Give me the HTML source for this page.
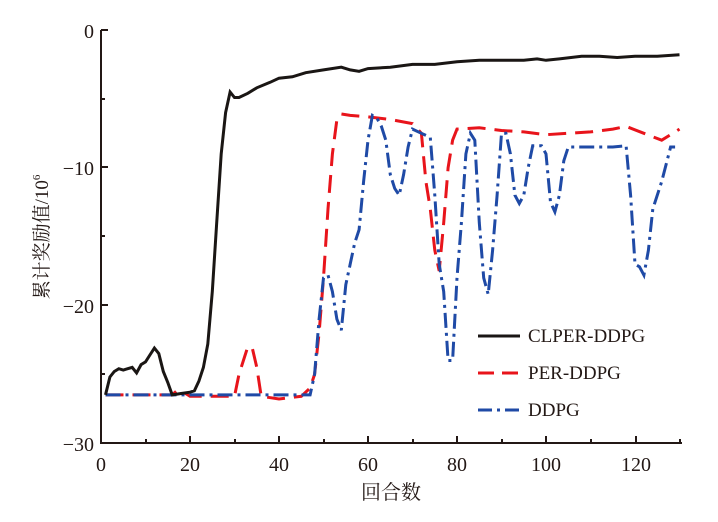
<!DOCTYPE html>
<html><head><meta charset="utf-8"><style>
body{margin:0;background:#fff;width:718px;height:517px;overflow:hidden}
svg text{font-family:"Liberation Serif","Noto Serif CJK SC",serif;fill:#231815}
</style></head><body>
<svg id="s" width="718" height="517" xmlns="http://www.w3.org/2000/svg">
<g stroke="#231815" stroke-width="2" fill="none">
<path d="M101,30 V443 H682"/>
<path d="M101,30h7M101,99h4M101,167h7M101,236h4M101,305h7M101,374h4"/>
<path d="M190,443v-7M279,443v-7M368,443v-7M457,443v-7M546,443v-7M636,443v-7M146,443v-4M235,443v-4M324,443v-4M413,443v-4M502,443v-4M591,443v-4M680,443v-4"/>
</g>
<g font-size="20" text-anchor="end">
<text x="94" y="38">0</text><text x="94" y="175">−10</text><text x="94" y="313">−20</text><text x="94" y="451">−30</text>
</g>
<g font-size="20" text-anchor="middle">
<text x="101" y="471">0</text><text x="190" y="471">20</text><text x="279" y="471">40</text><text x="368" y="471">60</text><text x="457" y="471">80</text><text x="546" y="471">100</text><text x="636" y="471">120</text>
</g>
<text x="391" y="499" font-size="20" text-anchor="middle">回合数</text>
<text transform="translate(48,237) rotate(-90)" font-size="19" text-anchor="middle">累计奖励值/10<tspan font-size="11" dy="-8">6</tspan></text>
<path id="r" fill="none" stroke="#e8141b" stroke-width="3" stroke-dasharray="18,9"/>
<path id="b" fill="none" stroke="#1f4aa6" stroke-width="3" stroke-dasharray="15,5,3,5"/>
<path id="k" fill="none" stroke="#1a1614" stroke-width="3"/>
<g font-size="19">
<path d="M478,336h42" stroke="#1a1614" stroke-width="3"/>
<text x="528" y="342">CLPER-DDPG</text>
<path d="M478,373h42" stroke="#e8141b" stroke-width="3" stroke-dasharray="16,8"/>
<text x="528" y="379">PER-DDPG</text>
<path d="M478,410h42" stroke="#1f4aa6" stroke-width="3" stroke-dasharray="14,5,3,5"/>
<text x="528" y="416">DDPG</text>
</g>
</svg>
<script>
function P(a){var s="";for(var i=0;i<a.length;i+=2){var x=101+a[i]*4.45,y=30-a[i+1]*13.77;s+=(i?"L":"M")+x.toFixed(1)+","+y.toFixed(1);}return s;}
var k=[1,-26.5,2,-25.2,3,-24.8,4,-24.6,5,-24.7,6,-24.6,7,-24.5,8,-24.9,9,-24.3,10,-24.1,11,-23.6,12,-23.1,13,-23.5,14,-24.8,15,-25.6,16,-26.5,18,-26.4,20,-26.3,21,-26.2,22,-25.5,23,-24.5,24,-22.8,25,-19,26,-14,27,-9,28,-6,29,-4.5,30,-4.9,31,-4.9,33,-4.6,35,-4.2,38,-3.8,40,-3.5,43,-3.4,46,-3.1,50,-2.9,54,-2.7,56,-2.9,58,-3.0,60,-2.8,65,-2.7,70,-2.5,75,-2.5,80,-2.3,85,-2.2,90,-2.2,95,-2.2,98,-2.1,100,-2.2,103,-2.1,108,-1.9,112,-1.9,116,-2,120,-1.9,125,-1.9,130,-1.8];
var r=[1,-26.5,16,-26.5,17,-26.2,19,-26.4,20,-26.6,30,-26.6,31,-25,33,-23,34,-23.1,35,-24.5,36,-26.6,40,-26.8,45,-26.6,47,-26,48,-25,49,-22,50,-18,51,-13,52,-9,53,-6.5,54,-6.1,56,-6.2,60,-6.3,65,-6.5,70,-6.8,72,-7.5,73,-11,74,-13,75,-16,76,-17.5,77,-14,78,-10,79,-8,80,-7.2,85,-7.1,90,-7.3,95,-7.4,100,-7.6,105,-7.5,110,-7.4,115,-7.2,118,-7,122,-7.5,126,-8,130,-7.2];
var b=[1,-26.5,47,-26.5,48,-25,49,-21,50,-18,51,-17.8,52,-19,53,-21,54,-21.8,55,-18.5,56,-17,57,-15.5,58,-14.5,59,-11,60,-8,61,-6.2,62,-6.4,63,-7,64,-8,65,-10.5,66,-11.5,67,-12,68,-10.5,69,-8.5,70,-7.2,72,-7.5,74,-7.8,75,-12,76,-17,77,-19,78,-24,79,-24,80,-18,81,-14,82,-9,83,-7.5,84,-8,85,-14,86,-18,87,-19.2,88,-16,89,-12,90,-7.5,91,-7.5,92,-9,93,-12,94,-12.6,95,-12,96,-10,97,-8.4,99,-8.4,100,-9,101,-12.5,102,-13.2,103,-12,104,-9.5,105,-8.5,110,-8.5,115,-8.5,118,-8.4,119,-12,120,-17,121,-17.2,122,-17.8,123,-16,124,-13,126,-11,128,-8.5,129,-8.5];
document.getElementById("k").setAttribute("d",P(k));
document.getElementById("r").setAttribute("d",P(r));
document.getElementById("b").setAttribute("d",P(b));
</script>
</body></html>
